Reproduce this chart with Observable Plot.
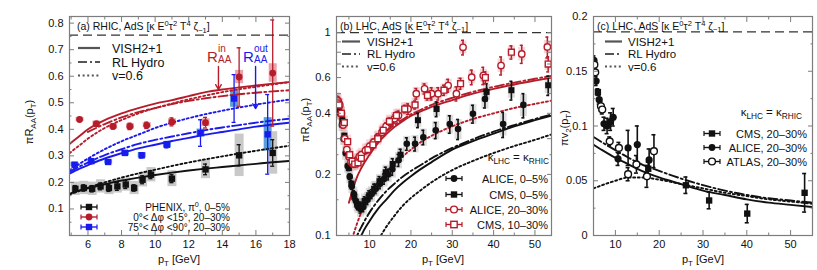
<!DOCTYPE html>
<html><head><meta charset="utf-8">
<script src="https://cdn.jsdelivr.net/npm/d3@7"></script>
<script src="https://cdn.jsdelivr.net/npm/@observablehq/plot@0.6"></script>
<style>
body{margin:0;background:#fff}
#wrap{position:relative;width:817px;height:270px;overflow:hidden}
#wrap svg{position:absolute;left:0;top:0}
</style>
</head><body><div id="wrap"></div>
<script>
// ================= DATA =================
// ---- Panel (a): RHIC ----
const aModelX     = [4.9,5.5,6,7,8,9,10,11,12,13,14,15,16,17,18];
const aRedSolid   = [0.345,0.375,0.40,0.435,0.46,0.48,0.497,0.51,0.525,0.54,0.55,0.558,0.565,0.572,0.578];
const aRedDashDot = [null,null,0.39,0.42,0.445,0.465,0.48,0.495,0.507,0.517,0.525,0.532,0.538,0.543,0.547];
const aRedDotted  = [0.31,0.34,0.365,0.405,0.435,0.46,0.48,0.497,0.513,0.527,0.54,0.551,0.56,0.569,0.578];
const aBlueSolid  = [0.233,0.252,0.265,0.29,0.31,0.328,0.342,0.356,0.368,0.38,0.39,0.4,0.41,0.418,0.425];
const aBlueDashDot= [0.24,0.26,0.275,0.303,0.325,0.345,0.36,0.373,0.385,0.397,0.407,0.416,0.425,0.433,0.44];
const aBlueDotted = [0.245,0.27,0.29,0.325,0.355,0.38,0.405,0.425,0.442,0.457,0.47,0.482,0.493,0.503,0.512];
const aBlkSolid   = [0.157,0.17,0.178,0.193,0.207,0.218,0.228,0.237,0.245,0.252,0.258,0.264,0.27,0.276,0.281];
const aBlkDotted  = [0.155,0.168,0.18,0.2,0.218,0.234,0.248,0.262,0.275,0.287,0.298,0.309,0.319,0.329,0.338];

const phenixX    = [5.25,5.75,6.25,6.75,7.25,7.75,8.25,8.75,9.25,9.75,11,13,15,17];
const phenixY    = [0.176,0.179,0.176,0.185,0.179,0.185,0.192,0.179,0.21,0.229,0.214,0.249,0.302,0.311];
const phenixStat = [0.012,0.012,0.012,0.013,0.013,0.015,0.015,0.012,0.015,0.015,0.015,0.02,0.04,0.05];
const phenixSys  = [0.025,0.025,0.025,0.025,0.025,0.025,0.025,0.025,0.027,0.027,0.03,0.035,0.08,0.08];

const inX    = [5.5,6.5,7.5,8.5,9.5,11,13,15,17];
const inY    = [0.437,0.421,0.411,0.411,0.415,0.428,0.425,0.597,0.612];
const inStat = [0.006,0.008,0.01,0.012,0.012,0.015,0.02,0.11,0.2];
const inSys  = [0.008,0.01,0.01,0.01,0.01,0.012,0.015,0.025,0.035];

const outX    = [5.2,6.2,7.2,8.2,9.2,10.7,12.7,14.7,16.7];
const outY    = [0.267,0.28,0.277,0.311,0.302,0.342,0.386,0.516,0.381];
const outStat = [0.005,0.006,0.006,0.008,0.01,0.012,0.05,0.09,0.15];
const outSys  = [0.008,0.008,0.008,0.01,0.01,0.012,0.015,0.033,0.063];

// annotation arrows (R_AA^in, R_AA^out)
const arrowX  = [13.77, 15.98];
const arrowY1 = [0.637, 0.637];
const arrowY2 = [0.55, 0.478];

// ---- Panel (b): LHC R_AA ----
const bModelX      = [5,6,7,8,10,12,14,16,18,20,22,25,30,35,40,45,50,54];
const bRedSolid    = [0.145,0.17,0.195,0.215,0.25,0.285,0.315,0.342,0.366,0.388,0.405,0.43,0.465,0.5,0.528,0.555,0.58,0.6];
const bRedDashDot  = [null,null,null,null,null,null,0.325,0.35,0.373,0.395,0.413,0.44,0.477,0.51,0.54,0.567,0.592,0.612];
const bRedDotted   = [0.088,0.1,0.115,0.13,0.157,0.182,0.205,0.225,0.245,0.265,0.285,0.31,0.345,0.375,0.40,0.425,0.445,0.462];
const bBlkSolid    = [null,null,0.088,0.1,0.118,0.135,0.15,0.167,0.182,0.196,0.21,0.23,0.265,0.292,0.318,0.345,0.37,0.39];
const bBlkDashDot  = [null,0.088,0.1,0.11,0.13,0.148,0.165,0.18,0.195,0.208,0.22,0.24,0.27,0.298,0.325,0.35,0.375,0.395];
const bBlkDotted   = [null,null,null,null,0.085,0.095,0.11,0.125,0.14,0.153,0.165,0.183,0.21,0.233,0.255,0.276,0.296,0.315];

const alice05X = [2.1,2.5,2.9,3.3,3.7,4.2,4.7,5.2,5.7,6.2,6.7,7.2,7.8,8.5,9.5,10.5,11.5,12.5,13.5,14.5,15.5,17,19,21,23,26,29.4,31.4,35,37.9,42.3,47.2];
const alice05Y = [0.43,0.42,0.40,0.35,0.30,0.255,0.22,0.195,0.175,0.16,0.148,0.14,0.135,0.138,0.15,0.16,0.17,0.18,0.19,0.2,0.212,0.235,0.283,0.283,0.305,0.33,0.354,0.335,0.398,0.47,0.354,0.44];
const alice05E = [0.01,0.01,0.01,0.008,0.008,0.007,0.006,0.006,0.006,0.006,0.006,0.006,0.006,0.007,0.008,0.008,0.009,0.01,0.011,0.012,0.014,0.016,0.02,0.022,0.025,0.03,0.035,0.038,0.04,0.045,0.05,0.06];
const alice05S = [0.03,0.03,0.03,0.025,0.022,0.02,0.017,0.015,0.014,0.013,0.012,0.012,0.012,0.012,0.013,0.014,0.015,0.016,0.017,0.018,0.02,0.022,0.025,0.028,0.03,0.034,0.038,0.038,0.045,0.05,0.045,0.055];

const cms05X = [3.0,3.4,3.9,4.4,5.0,5.6,6.3,7.0,7.8,8.8,9.9,11.1,12.4,13.9,15.6,17.5,21.7,26.2,38.3,44.3,53.2];
const cms05Y = [0.40,0.37,0.31,0.26,0.215,0.18,0.155,0.142,0.14,0.148,0.158,0.17,0.185,0.205,0.225,0.25,0.37,0.42,0.51,0.52,0.55];
const cms05E = [0.008,0.008,0.008,0.007,0.006,0.006,0.006,0.006,0.006,0.007,0.008,0.009,0.01,0.012,0.014,0.016,0.03,0.035,0.05,0.055,0.06];
const cms05S = [0.025,0.022,0.02,0.017,0.015,0.013,0.012,0.011,0.011,0.012,0.013,0.014,0.015,0.017,0.018,0.02,0.03,0.035,0.045,0.045,0.05];

const alice2030X = [2.0,2.4,2.8,3.2,3.6,4.0,4.5,5.0,5.5,6.0,6.5,7.0,7.5,8.0,9.0,10,11,12,13,14,15,16,17,19.3,21.3,23.3,25,26.6,29,31,32.6,34.7,37.5,41.8,46.8,53];
const alice2030Y = [0.47,0.46,0.44,0.40,0.35,0.30,0.265,0.245,0.23,0.225,0.228,0.235,0.245,0.25,0.262,0.275,0.288,0.305,0.323,0.345,0.36,0.376,0.39,0.42,0.50,0.528,0.50,0.50,0.548,0.50,0.846,0.603,0.614,0.688,0.785,0.85];
const alice2030E = [0.01,0.01,0.01,0.01,0.01,0.008,0.008,0.008,0.008,0.008,0.008,0.008,0.008,0.009,0.01,0.01,0.011,0.012,0.013,0.014,0.016,0.018,0.02,0.025,0.03,0.03,0.035,0.035,0.04,0.04,0.07,0.05,0.06,0.07,0.08,0.1];
const alice2030S = [0.035,0.035,0.033,0.03,0.026,0.022,0.02,0.018,0.017,0.017,0.017,0.018,0.018,0.019,0.02,0.021,0.022,0.023,0.024,0.026,0.027,0.028,0.029,0.032,0.037,0.04,0.037,0.037,0.041,0.037,0.063,0.045,0.046,0.052,0.06,0.064];

const cms1030X = [2.2,2.6,3.2,3.9,4.7,5.2,5.8,6.4,7.2,8.0,9.6,10.8,12,13.3,14.8,16.5,18.5,21,24,28,32,38,44.3,53.2];
const cms1030Y = [0.45,0.44,0.40,0.36,0.29,0.25,0.232,0.225,0.228,0.24,0.265,0.28,0.3,0.33,0.365,0.39,0.42,0.44,0.49,0.52,0.56,0.6,0.80,0.70];
const cms1030E = [0.01,0.01,0.01,0.01,0.008,0.008,0.008,0.008,0.008,0.008,0.009,0.01,0.011,0.012,0.014,0.016,0.018,0.02,0.025,0.03,0.035,0.04,0.06,0.06];
const cms1030S = [0.035,0.035,0.03,0.028,0.022,0.02,0.018,0.017,0.017,0.018,0.02,0.021,0.022,0.025,0.027,0.029,0.031,0.033,0.036,0.038,0.041,0.044,0.058,0.05];

// ---- Panel (c): LHC v2 ----
const cModelX   = [5,7,10,13,16,20,25,30,35,40,45,50,55];
const cSolid    = [0.083,0.078,0.071,0.065,0.059,0.053,0.047,0.041,0.037,0.033,0.030,0.028,0.026];
const cDashDot  = [0.09,0.085,0.078,0.071,0.065,0.059,0.052,0.046,0.041,0.037,0.034,0.032,0.030];
const cDotted   = [0.043,0.046,0.05,0.053,0.053,0.051,0.047,0.043,0.039,0.036,0.033,0.031,0.029];

const cAliceX = [5.1,5.6,6.3,7.4,8.1,8.9,9.5,10.6,12.9,15.0,17.7];
const cAliceY = [0.160,0.141,0.124,0.102,0.100,0.104,0.108,0.070,0.080,0.083,0.069];
const cAliceE = [0.004,0.004,0.004,0.006,0.007,0.008,0.008,0.006,0.016,0.017,0.010];
const cAtlasX = [5.2,5.4,6.7,7.0,8.7,10.8,12.9,14.8,17.2,18.8];
const cAtlasY = [0.156,0.149,0.118,0.115,0.086,0.080,0.056,0.065,0.054,0.077];
const cAtlasE = [0.003,0.003,0.004,0.004,0.004,0.005,0.006,0.008,0.010,0.015];
const cCmsX   = [6.0,17.5,26.1,31.4,40.1,53.2];
const cCmsY   = [0.131,0.061,0.0459,0.032,0.020,0.039];
const cCmsE   = [0.003,0.006,0.0075,0.0076,0.0084,0.0176];

// ---- text ----
const lineLegendLabels = ["VISH2+1","RL Hydro","v=0.6"];

// ================= HELPERS =================
const FONT = '"Liberation Sans", Arial, Helvetica, sans-serif';
const RED = "#b51d2b", BLUE = "#1a1aee", BLK = "#111111", FR = "#7d7d7d";
const W = 817, H = 270, TOP = 16, BOT = 235;

const pts = (xs, ys, es, ss) => xs.map((x, i) => ({x, y: ys[i], e: es ? es[i] : 0, s: ss ? ss[i] : 0}));
const crv = (xs, ys) => xs.map((x, i) => ({x, y: ys[i]})).filter(d => d.y != null);

const SOLID = null, DASHDOT = "9,3,2,3", DOTTED = "2,2.6";
const line = (xs, ys, color, dash, w = 1.9) =>
  Plot.line(crv(xs, ys), {x: "x", y: "y", stroke: color, strokeWidth: w, strokeDasharray: dash, clip: true, curve: "monotone-x"});

const sys = (d, color, w = 8) =>
  Plot.ruleX(d, {x: "x", y1: v => v.y - v.s, y2: v => v.y + v.s, stroke: color, strokeWidth: w, clip: true});
const err = (d, color, cap = 2, w = 1.3) => [
  Plot.ruleX(d, {x: "x", y1: v => v.y - v.e, y2: v => v.y + v.e, stroke: color, strokeWidth: w, clip: true}),
  Plot.ruleY(d, {y: v => v.y + v.e, x1: "x", x2: "x", insetLeft: -cap, insetRight: -cap, stroke: color, strokeWidth: w, clip: true}),
  Plot.ruleY(d, {y: v => v.y - v.e, x1: "x", x2: "x", insetLeft: -cap, insetRight: -cap, stroke: color, strokeWidth: w, clip: true})
];
const dots = (d, color, symbol, open = false, r = 3.4) =>
  Plot.dot(d, {x: "x", y: "y", symbol, r, fill: open ? "white" : color, stroke: open ? color : "none", strokeWidth: open ? 1.4 : 0, clip: true});

const fmt = d => String(+(+d).toFixed(3));

function panel(cfg) {
  const axisTicks = [];
  for (const [ticks, size] of [[cfg.xMajor, -5], [cfg.xMinor, -2.5]]) {
    axisTicks.push(Plot.axisX(ticks, {anchor: "bottom", tickSize: size, fill: "none", stroke: FR, label: null}));
    axisTicks.push(Plot.axisX(ticks, {anchor: "top", tickSize: size, fill: "none", stroke: FR, label: null}));
  }
  for (const [ticks, size] of [[cfg.yMajor, -5], [cfg.yMinor, -2.5]]) {
    axisTicks.push(Plot.axisY(ticks, {anchor: "left", tickSize: size, fill: "none", stroke: FR, label: null}));
    axisTicks.push(Plot.axisY(ticks, {anchor: "right", tickSize: size, fill: "none", stroke: FR, label: null}));
  }
  return Plot.plot({
    width: W, height: H,
    marginLeft: cfg.left, marginRight: W - cfg.right, marginTop: TOP, marginBottom: H - BOT,
    style: {background: "none", fontFamily: FONT, fontSize: "11px", color: "#111", overflow: "visible"},
    x: {domain: cfg.xDomain},
    y: {domain: cfg.yDomain, type: cfg.yType || "linear"},
    marks: [
      ...cfg.marks,
      Plot.ruleY([cfg.limit], {stroke: "#333", strokeWidth: 1.3, strokeDasharray: "9,5"}),
      ...axisTicks,
      Plot.axisX(cfg.xLabels, {anchor: "bottom", tickSize: 0, tickPadding: 5, label: null, tickFormat: fmt, fill: "#111"}),
      Plot.axisY(cfg.yLabels, {anchor: "left", tickSize: 0, tickPadding: 6, label: null, tickFormat: fmt, fill: "#111"}),
      Plot.frame({stroke: FR, strokeWidth: 1.2})
    ]
  });
}

// rich text: parts = ["plain", ["sup","x"], ["sub","y"]]
function rich(g, x, y, parts, {size = 11, anchor = "start", fill = "#111", transform = null} = {}) {
  const t = g.append("text").attr("font-size", size).attr("text-anchor", anchor).attr("fill", fill);
  if (transform) t.attr("transform", transform); else t.attr("x", x).attr("y", y);
  let cur = 0;
  for (const p of parts) {
    const [kind, s] = typeof p === "string" ? [null, p] : p;
    const target = kind === "sup" ? -size * 0.38 : kind === "sub" ? size * 0.28 : 0;
    const ts = t.append("tspan").text(s).attr("dy", target - cur);
    if (kind) ts.attr("font-size", size * 0.72);
    cur = target;
  }
  return t;
}
function lineLegend(g, x0, x1, tx, ys, size) {
  const dashes = [SOLID, DASHDOT, DOTTED];
  lineLegendLabels.forEach((lab, i) => {
    g.append("line").attr("x1", x0).attr("x2", x1).attr("y1", ys[i]).attr("y2", ys[i])
      .attr("stroke", "#555").attr("stroke-width", 2.2).attr("stroke-dasharray", dashes[i]);
    g.append("text").attr("x", tx).attr("y", ys[i] + size * 0.36).attr("font-size", size)
      .attr("text-anchor", "start").attr("fill", "#111").text(lab);
  });
}
function marker(g, cx, cy, color, shape, open) {
  g.append("line").attr("x1", cx - 8).attr("x2", cx + 8).attr("y1", cy).attr("y2", cy).attr("stroke", color).attr("stroke-width", 1.4);
  g.append("line").attr("x1", cx - 8).attr("x2", cx - 8).attr("y1", cy - 2.5).attr("y2", cy + 2.5).attr("stroke", color).attr("stroke-width", 1.2);
  g.append("line").attr("x1", cx + 8).attr("x2", cx + 8).attr("y1", cy - 2.5).attr("y2", cy + 2.5).attr("stroke", color).attr("stroke-width", 1.2);
  const el = shape === "square"
    ? g.append("rect").attr("x", cx - 3.2).attr("y", cy - 3.2).attr("width", 6.4).attr("height", 6.4)
    : g.append("circle").attr("cx", cx).attr("cy", cy).attr("r", 3.4);
  if (open) el.attr("fill", "white").attr("stroke", color).attr("stroke-width", 1.4);
  else el.attr("fill", color);
}
const titleParts = tag => [tag + " AdS [κ E", ["sup", "0"], "τ", ["sup", "2"], " T", ["sup", "4"], " ζ", ["sub", "−1"], "]"];
const ptLabel = ["p", ["sub", "T"], " [GeV]"];
const overlay = svg => d3.select(svg).append("g").attr("font-family", FONT).attr("text-anchor", "start");

const wrap = document.getElementById("wrap");

// ================= PANEL A =================
{
  const ph = pts(phenixX, phenixY, phenixStat, phenixSys);
  const rin = pts(inX, inY, inStat, inSys);
  const rout = pts(outX, outY, outStat, outSys);
  const arrows = arrowX.map((x, i) => ({x, y1: arrowY1[i], y2: arrowY2[i], c: i === 0 ? RED : BLUE}));
  const svg = panel({
    left: 69, right: 289, xDomain: [4.9, 18], yDomain: [0, 0.825], limit: 0.755,
    xMajor: [6, 8, 10, 12, 14, 16], xMinor: [5, 7, 9, 11, 13, 15, 17], xLabels: [6, 8, 10, 12, 14, 16, 18],
    yMajor: [0.1, 0.2, 0.3, 0.4, 0.5, 0.6, 0.7, 0.8], yMinor: [0.05, 0.15, 0.25, 0.35, 0.45, 0.55, 0.65, 0.75],
    yLabels: [0.1, 0.2, 0.3, 0.4, 0.5, 0.6, 0.7, 0.8],
    marks: [
      sys(ph, "#c9c9c9", 9), sys(rin, "#eaa2ab", 8), sys(rout, "#5a9fdc", 8),
      line(aModelX, aBlkSolid, BLK, SOLID), line(aModelX, aBlkDotted, BLK, DOTTED),
      line(aModelX, aBlueSolid, BLUE, SOLID), line(aModelX, aBlueDashDot, BLUE, DASHDOT), line(aModelX, aBlueDotted, BLUE, DOTTED),
      line(aModelX, aRedSolid, RED, SOLID), line(aModelX, aRedDashDot, RED, DASHDOT), line(aModelX, aRedDotted, RED, DOTTED),
      ...err(ph, BLK), ...err(rin, RED), ...err(rout, BLUE),
      dots(ph, BLK, "square", false, 3.6), dots(rin, RED, "circle", false, 3.4), dots(rout, BLUE, "square", false, 3.6),
      Plot.arrow(arrows, {x1: "x", x2: "x", y1: "y1", y2: "y2", stroke: "c", strokeWidth: 1.4, headLength: 6})
    ]
  });
  wrap.appendChild(svg);
  const g = overlay(svg);
  rich(g, 77, 30, titleParts("(a) RHIC,"), {size: 10.5});
  lineLegend(g, 78, 100, 112, [48, 62, 75.5], 12.5);
  rich(g, 207, 61.5, ["R"], {size: 15, fill: RED});
  rich(g, 218, 52, ["in"], {size: 10, fill: RED});
  rich(g, 218, 62.5, ["AA"], {size: 10, fill: RED});
  rich(g, 243, 61.5, ["R"], {size: 15, fill: BLUE});
  rich(g, 254, 52, ["out"], {size: 10, fill: BLUE});
  rich(g, 254, 62.5, ["AA"], {size: 10, fill: BLUE});
  marker(g, 89, 207, BLK, "square", false);
  marker(g, 89, 217, RED, "circle", false);
  marker(g, 89, 227, BLUE, "square", false);
  rich(g, 230, 210.5, ["PHENIX, π", ["sup", "0"], ", 0–5%"], {anchor: "end", size: 10});
  rich(g, 230, 220.5, ["0°< Δφ <15°, 20–30%"], {anchor: "end", size: 10});
  rich(g, 230, 230.5, ["75°< Δφ <90°, 20–30%"], {anchor: "end", size: 10});
  rich(g, 179, 263, ptLabel, {anchor: "middle"});
  rich(g, 0, 0, ["πR", ["sub", "AA"], "(p", ["sub", "T"], ")"], {anchor: "middle", transform: "translate(33,122) rotate(-90)"});
}

// ================= PANEL B =================
{
  const a05 = pts(alice05X, alice05Y, alice05E, alice05S);
  const c05 = pts(cms05X, cms05Y, cms05E, cms05S);
  const a2030 = pts(alice2030X, alice2030Y, alice2030E, alice2030S);
  const c1030 = pts(cms1030X, cms1030Y, cms1030E, cms1030S);
  const GS = "rgba(160,160,160,0.35)", PS = "rgba(225,140,150,0.35)";
  const svg = panel({
    left: 336, right: 551, xDomain: [2, 54], yDomain: [0.1, 1.2], yType: "log", limit: 1,
    xMajor: [10, 20, 30, 40, 50], xMinor: [5, 15, 25, 35, 45], xLabels: [10, 20, 30, 40, 50],
    yMajor: [0.1, 0.2, 0.3, 0.4, 0.5, 0.6, 0.7, 0.8, 0.9, 1], yMinor: [0.15, 0.25],
    yLabels: [0.1, 0.2, 0.4, 0.6, 0.8, 1],
    marks: [
      sys(a05, GS, 7), sys(c05, GS, 7), sys(a2030, PS, 7), sys(c1030, PS, 7),
      line(bModelX, bBlkSolid, BLK, SOLID), line(bModelX, bBlkDashDot, BLK, DASHDOT), line(bModelX, bBlkDotted, BLK, DOTTED),
      line(bModelX, bRedSolid, RED, SOLID), line(bModelX, bRedDashDot, RED, DASHDOT), line(bModelX, bRedDotted, RED, DOTTED),
      ...err(a05, BLK, 1.5, 1.6), ...err(c05, BLK, 1.5, 1.6), ...err(a2030, RED, 1.5, 1.5), ...err(c1030, RED, 1.5, 1.5),
      dots(a05, BLK, "circle", false, 3.3), dots(c05, BLK, "square", false, 3.4),
      dots(a2030, RED, "circle", true, 3.2), dots(c1030, RED, "square", true, 3.3)
    ]
  });
  wrap.appendChild(svg);
  const g = overlay(svg);
  rich(g, 340, 29.5, titleParts("(b) LHC,"), {size: 10.5});
  lineLegend(g, 342, 360, 367, [41.5, 54, 66.5], 11.5);
  rich(g, 549, 161, ["κ", ["sub", "LHC"], " = κ", ["sub", "RHIC"]], {anchor: "end", size: 11.5});
  marker(g, 454, 178.5, BLK, "circle", false);
  marker(g, 454, 194.5, BLK, "square", false);
  marker(g, 454, 209.5, RED, "circle", true);
  marker(g, 454, 224.5, RED, "square", true);
  rich(g, 548, 182.5, ["ALICE, 0–5%"], {anchor: "end"});
  rich(g, 548, 198.5, ["CMS, 0–5%"], {anchor: "end"});
  rich(g, 548, 213.5, ["ALICE, 20–30%"], {anchor: "end"});
  rich(g, 548, 228.5, ["CMS, 10–30%"], {anchor: "end"});
  rich(g, 443, 263, ptLabel, {anchor: "middle"});
  rich(g, 0, 0, ["πR", ["sub", "AA"], "(p", ["sub", "T"], ")"], {anchor: "middle", transform: "translate(309,120) rotate(-90)"});
}

// ================= PANEL C =================
{
  const al = pts(cAliceX, cAliceY, cAliceE);
  const at = pts(cAtlasX, cAtlasY, cAtlasE);
  const cm = pts(cCmsX, cCmsY, cCmsE);
  const svg = panel({
    left: 593, right: 812, xDomain: [5, 55], yDomain: [0, 0.2], limit: 0.186,
    xMajor: [10, 20, 30, 40, 50], xMinor: [15, 25, 35, 45], xLabels: [10, 20, 30, 40, 50],
    yMajor: [0, 0.05, 0.1, 0.15, 0.2], yMinor: [0.025, 0.075, 0.125, 0.175],
    yLabels: [0, 0.05, 0.1, 0.15, 0.2],
    marks: [
      line(cModelX, cSolid, BLK, SOLID), line(cModelX, cDashDot, BLK, DASHDOT), line(cModelX, cDotted, BLK, DOTTED),
      ...err(cm, BLK, 2, 1.6), ...err(al, BLK, 2, 1.6), ...err(at, BLK, 2, 1.6),
      dots(cm, BLK, "square", false, 3.6), dots(al, BLK, "circle", false, 3.6), dots(at, BLK, "circle", true, 3.4)
    ]
  });
  wrap.appendChild(svg);
  const g = overlay(svg);
  rich(g, 597, 29.5, titleParts("(c) LHC,"), {size: 10.5});
  lineLegend(g, 605, 622, 628, [41.5, 54, 66.5], 11.5);
  rich(g, 802, 116, ["κ", ["sub", "LHC"], " = κ", ["sub", "RHIC"]], {anchor: "end", size: 11.5});
  marker(g, 712, 133.5, BLK, "square", false);
  marker(g, 712, 147.5, BLK, "circle", false);
  marker(g, 712, 161.5, BLK, "circle", true);
  rich(g, 807, 137.5, ["CMS, 20–30%"], {anchor: "end"});
  rich(g, 807, 151.5, ["ALICE, 20–30%"], {anchor: "end"});
  rich(g, 807, 165.5, ["ATLAS, 20–30%"], {anchor: "end"});
  rich(g, 703, 263, ptLabel, {anchor: "middle"});
  rich(g, 0, 0, ["πv", ["sub", "2"], "(p", ["sub", "T"], ")"], {anchor: "middle", transform: "translate(568,128) rotate(-90)"});
}
</script></body></html>
